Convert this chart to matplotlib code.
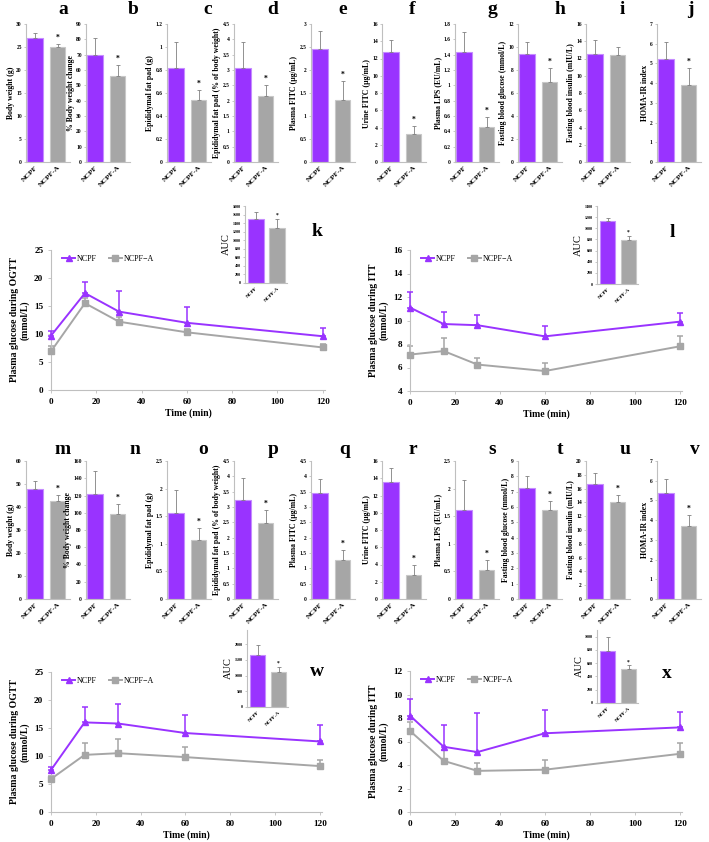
import numpy as np
import matplotlib
matplotlib.use("Agg")
import matplotlib.pyplot as plt

# ================== SETTINGS ==================
W, H = 709, 842
PURPLE = "#9933FF"
PURPLE_EDGE = "#C58CFF"
GRAY = "#A6A6A6"
GRAY_EDGE = "#C8C8C8"
ERR_GRAY = "#808080"
SPINE = "#BFBFBF"
SERIF = "Liberation Serif"

plt.rcParams["font.family"] = [SERIF, "DejaVu Serif"]

GROUPS = ["NCPF", "NCPF-A"]
TIME = [0, 15, 30, 60, 120]

# ---- bar panels a-j ----
TOP_LETTERS = list("abcdefghij")
BAR_YLABELS = ["Body weight (g)", "% Body weight change", "Epididymal fat pad (g)",
               "Epididymal fat pad (% of body weight)", "Plasma FITC (μg/mL)",
               "Urine FITC (μg/mL)", "Plasma LPS (EU/mL)",
               "Fasting blood glucose (mmol/L)", "Fasting blood insulin (mIU/L)",
               "HOMA-IR index"]
TOP_NCPF     = [26.9, 70, 0.82, 3.05, 2.46, 12.8, 1.44, 9.4, 12.5, 5.25]
TOP_NCPF_ERR = [1.2, 11, 0.22, 0.85, 0.38, 1.4, 0.26, 1.0, 1.7, 0.85]
TOP_A        = [24.9, 56, 0.54, 2.15, 1.35, 3.3, 0.46, 7.0, 12.4, 3.9]
TOP_A_ERR    = [0.8, 7.5, 0.09, 0.35, 0.42, 0.9, 0.13, 1.15, 0.9, 0.85]
TOP_SIG      = [True, True, True, True, True, True, True, True, False, True]
TOP_YMAX     = [30, 90, 1.2, 4.5, 3, 16, 1.8, 12, 16, 7]
TOP_YSTEP    = [5, 10, 0.2, 0.5, 0.5, 2, 0.2, 2, 2, 1]

# ---- bar panels m-v ----
BOT_LETTERS = list("mnopqrstuv")
BOT_NCPF     = [48, 122, 1.55, 3.22, 3.47, 13.6, 1.61, 7.25, 16.7, 5.4]
BOT_NCPF_ERR = [3.3, 26, 0.42, 0.73, 0.43, 1.6, 0.54, 0.75, 1.5, 0.7]
BOT_A        = [42.5, 99, 1.06, 2.47, 1.28, 2.8, 0.53, 5.8, 14.1, 3.7]
BOT_A_ERR    = [2.6, 11, 0.22, 0.43, 0.33, 1.2, 0.18, 0.6, 1.0, 0.55]
BOT_SIG      = [True] * 10
BOT_YMAX     = [60, 160, 2.5, 4.5, 4.5, 16, 2.5, 9, 20, 7]
BOT_YSTEP    = [10, 20, 0.5, 0.5, 0.5, 2, 0.5, 1, 2, 1]

# ---- glucose curves ----
OGTT1_NCPF = [9.7, 17.3, 14.0, 12.0, 9.6]
OGTT1_NCPF_ERR = [0.8, 1.9, 3.6, 2.8, 1.4]
OGTT1_A = [6.9, 15.5, 12.2, 10.3, 7.6]
OGTT1_A_ERR = [1.0, 1.0, 0.9, 0.6, 0.6]

ITT1_NCPF = [11.1, 9.7, 9.6, 8.65, 9.9]
ITT1_NCPF_ERR = [1.3, 1.0, 0.9, 0.85, 0.7]
ITT1_A = [7.1, 7.4, 6.25, 5.7, 7.8]
ITT1_A_ERR = [0.7, 1.1, 0.55, 0.7, 0.9]

OGTT2_NCPF = [7.5, 16.0, 15.8, 14.1, 12.6]
OGTT2_NCPF_ERR = [0.6, 2.7, 3.4, 3.3, 3.0]
OGTT2_A = [5.9, 10.2, 10.5, 9.8, 8.2]
OGTT2_A_ERR = [0.6, 2.1, 2.5, 1.8, 1.1]

ITT2_NCPF = [8.2, 5.55, 5.1, 6.7, 7.2]
ITT2_NCPF_ERR = [1.4, 1.85, 3.3, 1.95, 1.35]
ITT2_A = [6.9, 4.35, 3.5, 3.6, 4.95]
ITT2_A_ERR = [0.8, 0.95, 0.7, 0.8, 0.9]

# ---- AUC insets ----
AUC_K = [1485, 1275]
AUC_K_ERR = [175, 220]
AUC_L = [1130, 795]
AUC_L_ERR = [55, 65]
AUC_W = [1650, 1110]
AUC_W_ERR = [320, 170]
AUC_X = [780, 510]
AUC_X_ERR = [210, 60]
# ===============================================


def px_axes(fig, x0, y0, x1, y1):
    return fig.add_axes([x0 / W, 1 - y1 / H, (x1 - x0) / W, (y1 - y0) / H])


def style_axes(ax):
    for s in ("top", "right"):
        ax.spines[s].set_visible(False)
    for s in ("left", "bottom"):
        ax.spines[s].set_color(SPINE)
        ax.spines[s].set_linewidth(0.8)
    ax.tick_params(colors=SPINE, labelcolor="black", length=1.5, width=0.6)


def bar_panel(ax, vals, errs, sig, ymax, ystep, ylabel, tick_fs=4.0, lab_fs=5.5,
              xt_fs=5.4, ylab_fs=5.6, width=0.7, xlim=(-0.4, 1.55)):
    x = np.arange(2)
    ax.bar(x, vals, width=width, color=[PURPLE, GRAY],
           edgecolor=[PURPLE_EDGE, GRAY_EDGE], linewidth=0.8, zorder=2)
    ax.errorbar(x, vals, yerr=[[0, 0], errs], fmt="none", ecolor=ERR_GRAY,
                elinewidth=0.6, capsize=1.5, capthick=0.6, zorder=3)
    if sig:
        ax.text(1, vals[1] + errs[1] + ymax * 0.015, "*", ha="center", va="bottom",
                fontsize=lab_fs, fontweight="bold")
    ax.set_xlim(*xlim)
    ax.set_ylim(0, ymax)
    ticks = np.arange(0, ymax + ystep / 2, ystep)
    ax.set_yticks(ticks)
    ax.set_yticklabels(["%g" % round(t, 2) for t in ticks], fontsize=tick_fs,
                       fontweight="bold")
    ax.set_xticks(x)
    ax.set_xticklabels(GROUPS, rotation=45, ha="right", rotation_mode="anchor",
                       fontsize=xt_fs, fontweight="bold")
    style_axes(ax)
    ax.tick_params(axis="x", length=0, pad=2)
    ax.tick_params(axis="y", pad=1.5)
    ax.set_ylabel(ylabel, fontsize=ylab_fs, fontweight="bold", labelpad=1)


def curve_panel(ax, yn, en, ya, ea, ylim, ystep, ylabel):
    zeros = np.zeros(len(TIME))
    ax.errorbar(TIME, ya, yerr=[zeros, ea], fmt="none", ecolor=GRAY,
                elinewidth=1.1, capsize=2, capthick=1.1, zorder=2, clip_on=False)
    ax.plot(TIME, ya, color=GRAY, marker="s", ms=4, lw=1.4, label="NCPF−A",
            zorder=3, clip_on=False)
    ax.errorbar(TIME, yn, yerr=[zeros, en], fmt="none", ecolor=PURPLE,
                elinewidth=1.1, capsize=2, capthick=1.1, zorder=4, clip_on=False)
    ax.plot(TIME, yn, color=PURPLE, marker="^", ms=4.5, lw=1.4, label="NCPF",
            zorder=5, clip_on=False)
    ax.set_xlim(0, 121)
    ax.set_ylim(*ylim)
    ax.set_xticks(np.arange(0, 121, 20))
    ax.set_yticks(np.arange(ylim[0], ylim[1] + 0.1, ystep))
    for lab in ax.get_xticklabels() + ax.get_yticklabels():
        lab.set_fontsize(6.6)
        lab.set_fontweight("bold")
    ax.set_xlabel("Time (min)", fontsize=7, fontweight="bold", labelpad=2)
    ax.set_ylabel(ylabel, fontsize=7, fontweight="bold", labelpad=3)
    h, l = ax.get_legend_handles_labels()
    ax.legend(h[::-1], l[::-1], ncol=2, frameon=False, loc="upper left",
              bbox_to_anchor=(0.03, 0.99), fontsize=5.8, handlelength=1.6,
              handletextpad=0.2, columnspacing=1.5, borderaxespad=0)
    style_axes(ax)
    ax.tick_params(length=2)


def auc_panel(ax, vals, errs, ymax, ytop, ystep):
    bar_panel(ax, vals, errs, True, ytop, ystep, "AUC", tick_fs=3, lab_fs=4,
              xt_fs=3.8, ylab_fs=7.5, width=0.75, xlim=(-0.5, 1.45))
    ax.set_ylim(0, ymax)
    ax.yaxis.label.set_fontweight("normal")
    ax.yaxis.labelpad = 1


def letter(fig, x, y, s):
    fig.text(x / W, 1 - y / H, s, ha="center", va="center", fontsize=14,
             fontweight="bold")


def main():
    fig = plt.figure(figsize=(W / 100, H / 100), dpi=100)

    axis_x = [26, 86, 167, 234, 311, 382, 455, 518, 586, 657]
    top_lx = [63, 133, 208, 273, 343, 412, 492, 560, 622, 690]
    bot_lx = [63, 135, 203, 273, 345, 413, 492, 560, 625, 695]

    for i in range(10):
        ax = px_axes(fig, axis_x[i], 24, axis_x[i] + 44, 162)
        bar_panel(ax, [TOP_NCPF[i], TOP_A[i]], [TOP_NCPF_ERR[i], TOP_A_ERR[i]],
                  TOP_SIG[i], TOP_YMAX[i], TOP_YSTEP[i], BAR_YLABELS[i])
        letter(fig, top_lx[i], 10, TOP_LETTERS[i])

        ax = px_axes(fig, axis_x[i], 461, axis_x[i] + 44, 599)
        bar_panel(ax, [BOT_NCPF[i], BOT_A[i]], [BOT_NCPF_ERR[i], BOT_A_ERR[i]],
                  BOT_SIG[i], BOT_YMAX[i], BOT_YSTEP[i], BAR_YLABELS[i])
        letter(fig, bot_lx[i], 450, BOT_LETTERS[i])

    # glucose curves
    ax = px_axes(fig, 51, 250, 325, 390)
    curve_panel(ax, OGTT1_NCPF, OGTT1_NCPF_ERR, OGTT1_A, OGTT1_A_ERR, (0, 25), 5,
                "Plasma glucose during OGTT\n(mmol/L)")
    ax = px_axes(fig, 410, 250, 682, 391)
    curve_panel(ax, ITT1_NCPF, ITT1_NCPF_ERR, ITT1_A, ITT1_A_ERR, (4, 16), 2,
                "Plasma glucose during ITT\n(mmol/L)")
    ax = px_axes(fig, 51, 672, 322, 812)
    curve_panel(ax, OGTT2_NCPF, OGTT2_NCPF_ERR, OGTT2_A, OGTT2_A_ERR, (0, 25), 5,
                "Plasma glucose during OGTT\n(mmol/L)")
    ax = px_axes(fig, 410, 671, 682, 812)
    curve_panel(ax, ITT2_NCPF, ITT2_NCPF_ERR, ITT2_A, ITT2_A_ERR, (0, 12), 2,
                "Plasma glucose during ITT\n(mmol/L)")

    # AUC insets
    ax = px_axes(fig, 245, 206, 287, 283)
    auc_panel(ax, AUC_K, AUC_K_ERR, 1800, 1800, 200)
    ax = px_axes(fig, 597, 206, 638, 284)
    auc_panel(ax, AUC_L, AUC_L_ERR, 1400, 1400, 200)
    ax = px_axes(fig, 247, 630, 288, 707)
    auc_panel(ax, AUC_W, AUC_W_ERR, 2450, 2000, 500)
    ax = px_axes(fig, 597, 630, 638, 703)
    auc_panel(ax, AUC_X, AUC_X_ERR, 1100, 1000, 200)

    letter(fig, 317, 232, "k")
    letter(fig, 672, 233, "l")
    letter(fig, 317, 672, "w")
    letter(fig, 667, 674, "x")

    fig.savefig("out.png", dpi=100)
    plt.close(fig)


if __name__ == "__main__":
    main()
